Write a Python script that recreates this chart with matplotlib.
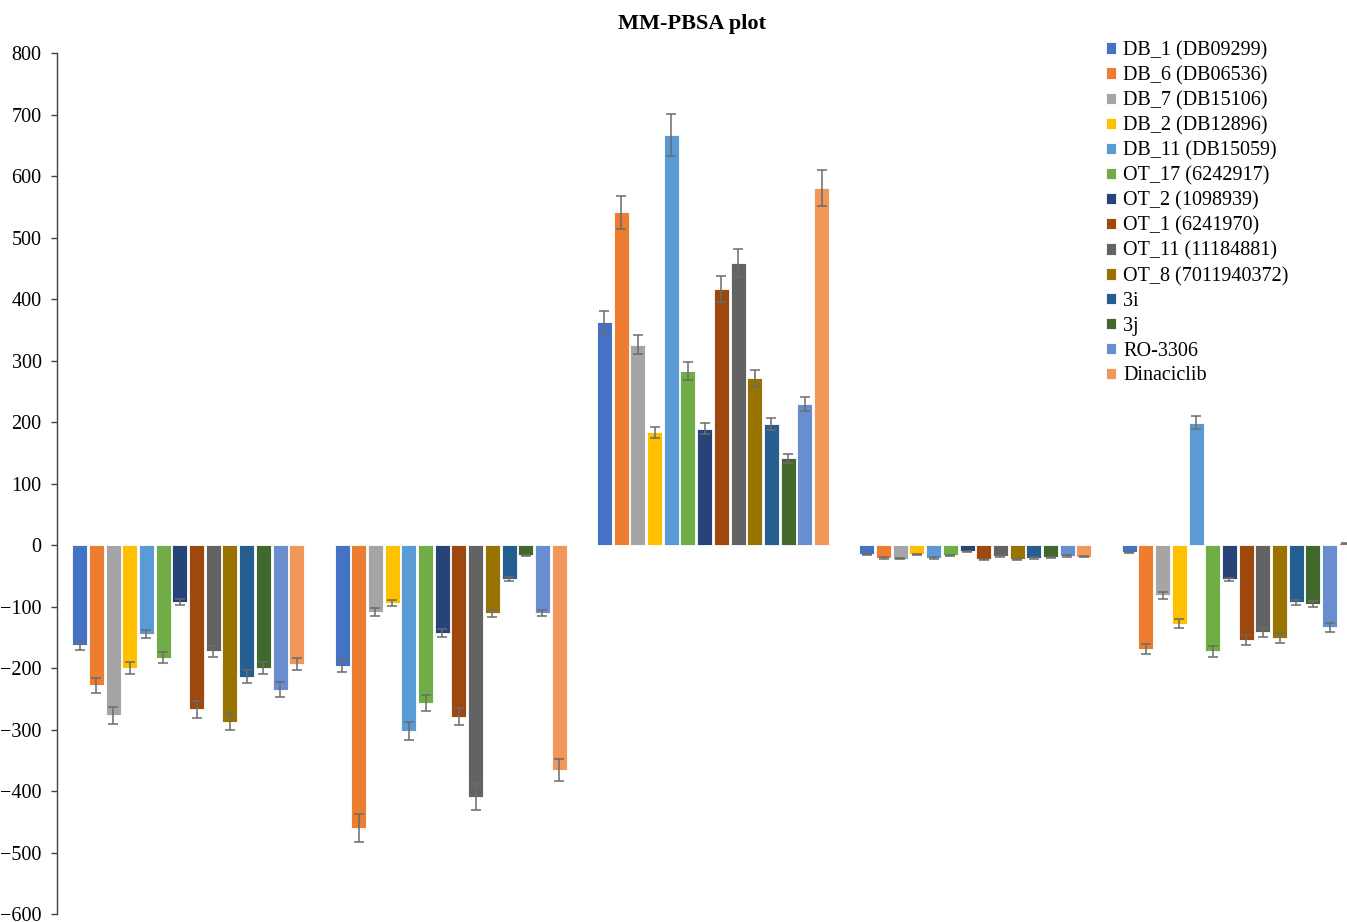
import matplotlib
matplotlib.use("Agg")
import matplotlib.pyplot as plt
import numpy as np

# Energy components (kJ/mol) for each compound, five groups of bars
compounds = ["DB_1 (DB09299)", "DB_6 (DB06536)", "DB_7 (DB15106)", "DB_2 (DB12896)",
             "DB_11 (DB15059)", "OT_17 (6242917)", "OT_2 (1098939)", "OT_1 (6241970)",
             "OT_11 (11184881)", "OT_8 (7011940372)", "3i", "3j", "RO-3306", "Dinaciclib"]
colors = ["#4472C4", "#ED7D31", "#A5A5A5", "#FFC000", "#5B9BD5", "#70AD47", "#264478",
          "#9E480E", "#636363", "#997300", "#255E91", "#43682B", "#698ED0", "#F1975A"]

group1 = [-162, -228, -277, -200, -145, -183, -92, -267, -173, -287, -214, -200, -235, -193]
group2 = [-196, -460, -109, -94, -302, -257, -143, -279, -410, -111, -55, -17, -110, -366]
group3 = [362, 541, 326, 183, 667, 283, 189, 416, 459, 271, 197, 141, 229, 580]
group4 = [-15, -21, -22, -15, -21, -17, -10, -23, -18, -23, -21, -20, -18, -19]
group5 = [-12, -169, -82, -128, 199, -173, -56, -154, -142, -151, -93, -96, -134, 3]

err1 = [8, 12, 14, 10, 7, 9, 5, 14, 9, 14, 11, 10, 12, 10]
err2 = [10, 23, 6, 5, 15, 13, 7, 14, 21, 6, 3, 1, 5, 18]
err3 = [18, 27, 16, 9, 34, 14, 9, 21, 23, 14, 10, 7, 11, 29]
err4 = [1, 1, 1, 1, 1, 1, 1, 1, 1, 1, 1, 1, 1, 1]
err5 = [1, 8, 5, 7, 10, 9, 3, 8, 7, 8, 4, 5, 7, 1]

values = np.array([group1, group2, group3, group4, group5])
errors = np.array([err1, err2, err3, err4, err5])

plt.rcParams["font.family"] = ["Liberation Serif", "DejaVu Serif"]

W, H = 1347, 922
fig = plt.figure(figsize=(W / 100, H / 100), dpi=100)
ax = fig.add_axes([57 / W, 8 / H, (1369 - 57) / W, (914 - 53) / H])

n = len(compounds)
groups = np.arange(values.shape[0])
pitch = 16.7 / 262.5
width = 15.0 / 262.5
for i in range(n):
    x = groups + (i - (n - 1) / 2) * pitch
    ax.bar(x, values[:, i], width=width, color=colors[i], edgecolor="white",
           linewidth=0.6, label=compounds[i], zorder=2)
    ax.errorbar(x, values[:, i], yerr=errors[:, i], fmt="none", ecolor="#6b6b6b",
                elinewidth=1.1, capsize=3.5, capthick=1.1, zorder=3)

ax.set_xlim(-0.5, len(groups) - 0.5)
ax.set_ylim(-600, 800)
ax.set_yticks(np.arange(-600, 801, 100))
ax.set_xticks([])
for s in ["top", "right", "bottom"]:
    ax.spines[s].set_visible(False)
ax.spines["left"].set_color("#404040")
ax.spines["left"].set_linewidth(1.0)
ax.tick_params(axis="y", direction="out", length=4, width=1, color="#404040",
               labelsize=14.5, pad=7)

fig.text(692 / W, 1 - 24 / H, "MM-PBSA plot", ha="center", va="center",
         fontsize=16, fontweight="bold")

fig.legend(loc="upper left", bbox_to_anchor=(1106 / W, 1 - 41 / H), frameon=False,
           fontsize=14.5, handlelength=0.5, handleheight=0.5, handletextpad=0.35,
           labelspacing=0.29, borderpad=0, borderaxespad=0)

fig.savefig("out.png", dpi=100)
